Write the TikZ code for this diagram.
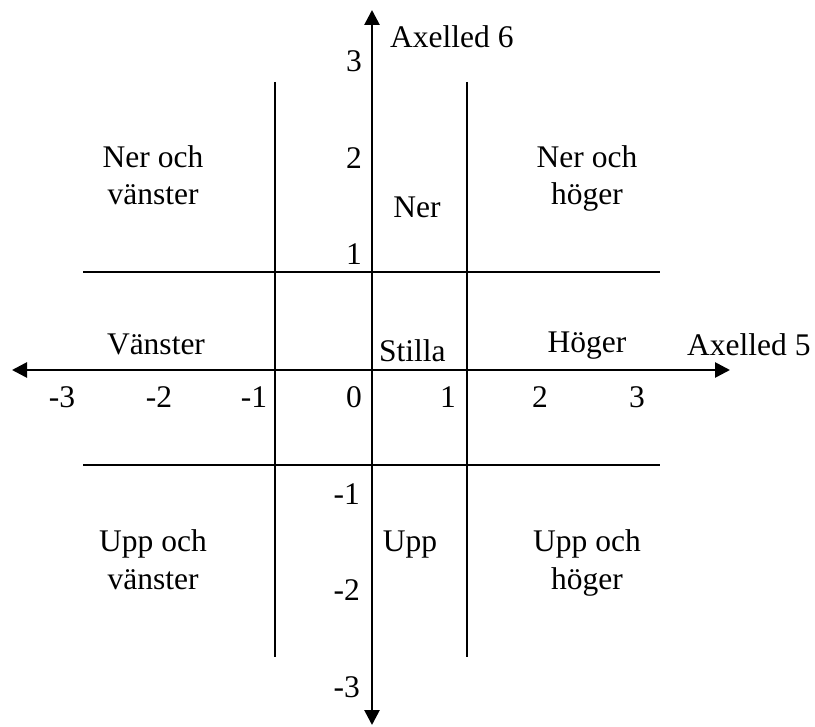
\documentclass[tikz,border=0pt]{standalone}
\usepackage{fontspec}
\setmainfont{Liberation Serif}
\usetikzlibrary{arrows.meta}
\begin{document}
\begin{tikzpicture}[x=1pt,y=-1pt,
  axisline/.style={line width=2.7pt,
    {Triangle[length=15pt,width=15pt]}-{Triangle[length=15pt,width=15pt]}},
  gridline/.style={line width=1.7pt},
  lbl/.style={font=\fontsize{31.5}{37}\selectfont, inner sep=0pt, anchor=base},
  tickr/.style={lbl, anchor=base east}
]
\useasboundingbox (0,0) rectangle (815,727);
% end points
\coordinate (xl) at (12,370);
\coordinate (xr) at (730,370);
\coordinate (yt) at (372,10);
\coordinate (yb) at (372,725);
\coordinate (v1t) at (275,82);
\coordinate (v1b) at (275,657);
\coordinate (v2t) at (467,82);
\coordinate (v2b) at (467,657);
\coordinate (h1l) at (83,272);
\coordinate (h1r) at (660,272);
\coordinate (h2l) at (83,465);
\coordinate (h2r) at (660,465);
% grid
\draw[gridline] (v1t) -- (v1b);
\draw[gridline] (v2t) -- (v2b);
\draw[gridline] (h1l) -- (h1r);
\draw[gridline] (h2l) -- (h2r);
% axes
\draw[axisline] (xl) -- (xr);
\draw[axisline] (yb) -- (yt);
% axis titles
\node[lbl, anchor=base west] (t6) at (390,48) {Axelled 6};
\node[lbl, anchor=base west] (t5) at (687,356) {Axelled 5};
% x ticks
\node[lbl] (xm3) at (62,408) {-3};
\node[lbl] (xm2) at (159,408) {-2};
\node[lbl] (xm1) at (254,408) {-1};
\node[lbl] (xp1) at (448,408) {1};
\node[lbl] (xp2) at (540,408) {2};
\node[lbl] (xp3) at (637,408) {3};
% y ticks
\node[tickr] (yp3) at (362,72) {3};
\node[tickr] (yp2) at (362,169) {2};
\node[tickr] (yp1) at (362,265) {1};
\node[tickr] (y0) at (362,408) {0};
\node[tickr] (ym1) at (360,505) {-1};
\node[tickr] (ym2) at (360,600) {-2};
\node[tickr] (ym3) at (360,697) {-3};
% regions
\node[lbl] (nvA) at (153,168) {Ner och};
\node[lbl] (nvB) at (153,205) {vänster};
\node[lbl] (ner) at (417,218) {Ner};
\node[lbl] (nhA) at (587,168) {Ner och};
\node[lbl] (nhB) at (587,205) {höger};
\node[lbl] (van) at (156,355) {Vänster};
\node[lbl, anchor=base west] (sti) at (379,362) {Stilla};
\node[lbl] (hog) at (587,353) {Höger};
\node[lbl] (uvA) at (153,552) {Upp och};
\node[lbl] (uvB) at (153,589) {vänster};
\node[lbl] (upp) at (410,551) {Upp};
\node[lbl] (uhA) at (587,552) {Upp och};
\node[lbl] (uhB) at (587,589) {höger};
\end{tikzpicture}
\end{document}
